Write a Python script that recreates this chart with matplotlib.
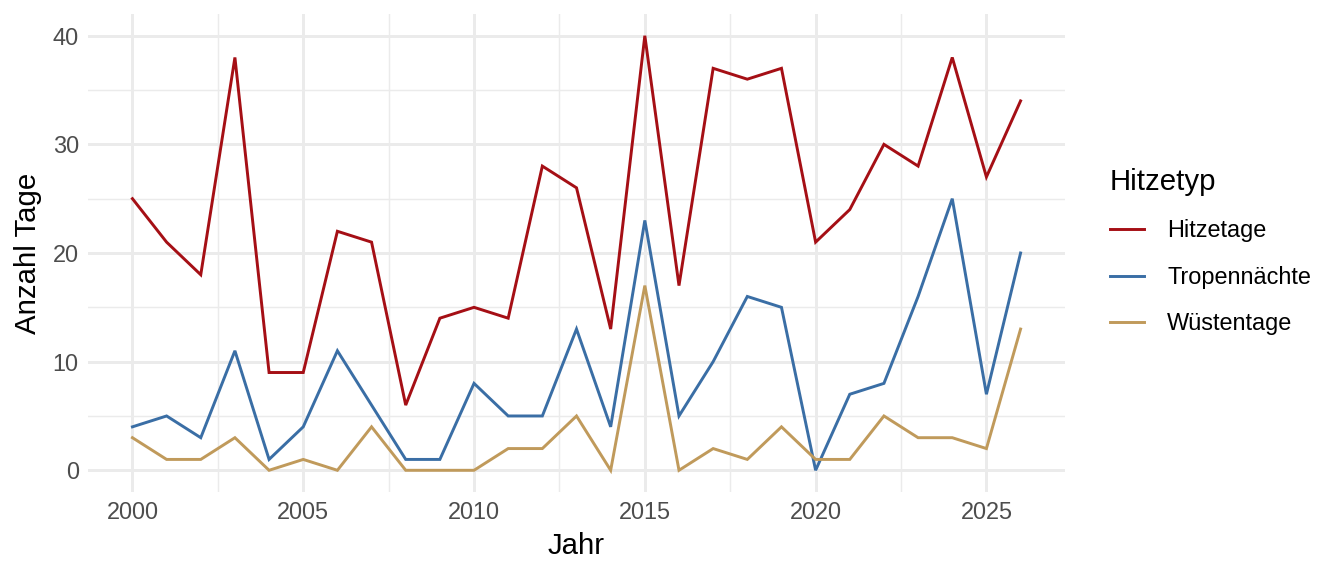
import matplotlib
matplotlib.use("Agg")
import matplotlib.pyplot as plt
from matplotlib.ticker import MultipleLocator

plt.rcParams['font.family'] = ['Liberation Sans', 'DejaVu Sans']

# Daten
jahre = list(range(2000, 2027))
hitzetage = [25, 21, 18, 38, 9, 9, 22, 21, 6, 14, 15, 14, 28, 26, 13, 40,
             17, 37, 36, 37, 21, 24, 30, 28, 38, 27, 34]
tropennaechte = [4, 5, 3, 11, 1, 4, 11, 6, 1, 1, 8, 5, 5, 13, 4, 23,
                 5, 10, 16, 15, 0, 7, 8, 16, 25, 7, 20]
wuestentage = [3, 1, 1, 3, 0, 1, 0, 4, 0, 0, 0, 2, 2, 5, 0, 17,
               0, 2, 1, 4, 1, 1, 5, 3, 3, 2, 13]

serien = [("Hitzetage", hitzetage, "#a50f15"),
          ("Tropennächte", tropennaechte, "#3a6ea5"),
          ("Wüstentage", wuestentage, "#c09a5b")]

fig = plt.figure(figsize=(7, 3), dpi=192)
ax = fig.add_axes([0.0655, 0.1458, 0.7269, 0.8299])

for name, werte, farbe in serien:
    ax.plot(jahre, werte, color=farbe, lw=1.1, label=name,
            solid_joinstyle='miter', zorder=3)

ax.set_xlim(1998.7, 2027.3)
ax.set_ylim(-2, 42)
ax.xaxis.set_major_locator(MultipleLocator(5))
ax.xaxis.set_minor_locator(MultipleLocator(2.5))
ax.yaxis.set_major_locator(MultipleLocator(10))
ax.yaxis.set_minor_locator(MultipleLocator(5))
ax.grid(True, which='major', color='#ebebeb', lw=1.1)
ax.grid(True, which='minor', color='#ebebeb', lw=0.55)
ax.set_axisbelow(True)
for s in ax.spines.values():
    s.set_visible(False)
ax.tick_params(which='both', length=0, labelsize=8.8, labelcolor='#4d4d4d',
               pad=3.5)

ax.set_xlabel("Jahr", fontsize=11, labelpad=3)
ax.set_ylabel("Anzahl Tage", fontsize=11, labelpad=4)

leg = ax.legend(title="Hitzetyp", loc='center left',
                bbox_to_anchor=(1.036, 0.503), frameon=False, fontsize=8.8,
                title_fontsize=11, handlelength=1.45, handletextpad=1.0,
                labelspacing=1.0, borderaxespad=0)
leg._legend_box.align = "left"

fig.savefig("out.png", dpi=192)
